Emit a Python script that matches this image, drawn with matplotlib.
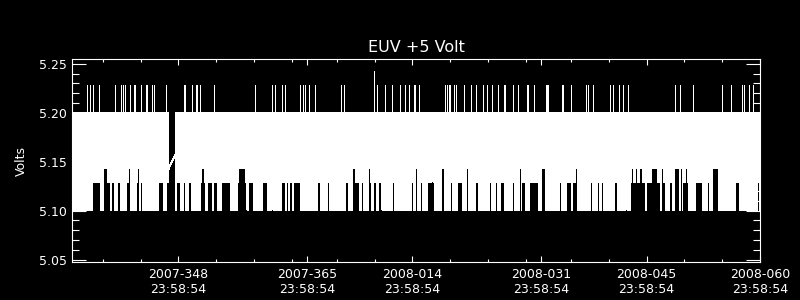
import numpy as np
import matplotlib
matplotlib.use("Agg")
import matplotlib.pyplot as plt
import matplotlib.dates as mdates
from matplotlib.ticker import FixedLocator, FixedFormatter, MultipleLocator, FormatStrFormatter
from datetime import datetime

# time in days: 2007 day-of-year, counted on into 2008 (366 = 2008-001), at 23:58:54
t_start = 333.97
t_end = 425.0
day_zero = datetime(2006, 12, 31, 23, 58, 54)

tick_days = [348, 365, 379, 396, 410, 425]
tick_labels = ["2007-348\n23:58:54", "2007-365\n23:58:54", "2008-014\n23:58:54",
               "2008-031\n23:58:54", "2008-045\n23:58:54", "2008-060\n23:58:54"]

# voltage steps seen in the trace
v_floor = 5.100
v_ceil = 5.200
v_step1 = 5.1286
v_step2 = 5.1429
v_gap_end = 5.1571
v_spike = 5.2286
v_spike_max = 5.2429

# single readings up at v_spike
spike_days = [335.96, 336.36, 336.67, 337.46, 339.67, 340.46, 340.64, 340.90, 341.65,
              342.09, 342.22, 343.06, 343.72, 343.90, 344.52, 344.74, 346.42, 348.71,
              348.93, 349.81, 350.34, 350.48, 350.92, 352.68, 358.11, 360.40, 360.76,
              361.73, 362.17, 364.15, 364.46, 364.73, 365.26, 366.05, 369.58, 369.89,
              374.30, 375.31, 376.29, 377.39, 378.05, 378.49, 379.15, 379.37,
              379.90, 383.34, 383.52, 383.87, 384.00, 384.53, 384.75, 385.86, 386.74,
              387.40, 388.37, 388.86, 389.52, 390.27, 391.15, 391.25, 392.26, 392.92,
              394.20, 394.30, 395.12, 396.70, 396.82, 396.95, 398.85, 398.95, 399.98,
              401.96, 402.18, 402.84, 405.08, 405.20, 405.49, 406.37, 406.81, 407.48,
              413.79, 414.45, 416.08, 419.96, 421.15, 422.61, 422.92, 423.58, 424.02]
spike_max_days = [373.86]

# spans where the lowest reading is v_step1 instead of v_floor
step1_spans = [(335.39, 335.53), (335.74, 335.87), (336.58, 337.68), (338.65, 339.00),
               (339.22, 339.53), (339.89, 340.33), (341.12, 341.65), (342.40, 342.75),
               (342.97, 343.28), (343.86, 343.99), (345.40, 346.06), (346.50, 346.81),
               (347.70, 348.27), (348.71, 348.93), (349.37, 349.73), (350.92, 351.58),
               (351.80, 352.46), (352.68, 353.25), (353.78, 354.89), (355.77, 357.09),
               (357.31, 357.98), (358.42, 358.64), (359.08, 359.74), (361.64, 362.15),
               (362.30, 362.60), (362.75, 363.05), (363.27, 364.15), (366.36, 366.80),
               (367.81, 367.95), (370.11, 370.55), (371.43, 371.87), (372.31, 372.54),
               (373.20, 373.51), (373.86, 374.17), (374.52, 374.96), (376.29, 376.64),
               (377.39, 377.53), (378.05, 378.19), (378.93, 379.15),
               (379.90, 380.04), (380.12, 380.34), (381.00, 381.89), (384.09, 384.23),
               (384.97, 385.64), (386.21, 386.43), (386.96, 387.10), (387.31, 387.62),
               (389.25, 389.39), (389.70, 389.84), (389.92, 390.31), (390.71, 391.02),
               (392.34, 392.56), (393.49, 394.02), (394.46, 395.70), (397.11, 397.25),
               (397.90, 398.04), (398.52, 398.66), (399.40, 399.98), (400.20, 400.73),
               (402.58, 402.76), (403.51, 403.73), (404.08, 404.26), (405.05, 405.19),
               (405.71, 406.11), (407.92, 409.80), (409.95, 411.89), (412.11, 412.55),
               (413.08, 413.35), (413.43, 413.57), (414.76, 415.55), (416.52, 417.40),
               (418.07, 418.29), (421.82, 422.26), (423.05, 423.19), (424.68, 424.99)]

# spans where the lowest reading is v_step2
step2_spans = [(338.03, 338.65), (340.55, 340.69), (341.34, 341.65), (342.66, 342.80),
               (345.75, 345.89), (346.28, 346.42), (349.46, 349.60), (350.25, 350.39),
               (351.05, 351.49), (355.24, 355.38), (355.99, 356.87), (360.40, 360.54),
               (362.03, 362.17), (366.58, 366.72), (367.46, 367.60), (368.79, 368.93),
               (371.12, 371.43), (371.79, 371.93), (372.76, 372.90), (373.20, 373.42),
               (375.18, 375.32),
               (379.46, 379.68), (380.56, 380.70), (381.58, 381.75), (382.11, 382.25),
               (382.90, 383.25), (385.20, 385.34), (385.50, 385.64), (386.21, 386.35),
               (387.62, 387.76), (391.02, 391.16), (392.26, 392.40), (393.14, 393.40),
               (394.90, 395.04), (396.01, 396.58), (399.76, 399.90), (400.55, 400.86),
               (401.08, 401.22), (402.40, 402.54), (403.06, 403.20), (404.39, 404.53),
               (405.84, 405.98), (407.26, 407.40), (408.05, 408.23), (408.49, 408.80),
               (409.11, 409.46), (410.57, 411.45), (412.02, 412.16), (413.74, 414.32),
               (414.54, 414.68), (415.20, 415.34), (415.90, 416.04), (416.74, 416.88),
               (417.49, 417.63), (418.73, 419.52), (420.93, 421.07), (421.90, 422.04)]

# data gap, joined by a straight line
gap_span = (346.72, 347.61)


def to_num(days):
    return mdates.date2num(day_zero) + np.asarray(days, dtype=float)


def build_envelope():
    t = np.arange(t_start, t_end + 0.005, 0.005)
    lo = np.full_like(t, v_floor)
    for a, b in step1_spans:
        lo[(t >= a) & (t < b)] = v_step1
    for a, b in step2_spans:
        lo[(t >= a) & (t < b)] = v_step2
    hi = np.full_like(t, v_ceil)
    keep = (t < gap_span[0]) | (t > gap_span[1])
    return t, lo, hi, keep


def main():
    plt.rcParams['font.family'] = 'DejaVu Sans'
    fig = plt.figure(figsize=(8, 3), dpi=100, facecolor='black')
    ax = fig.add_axes([0.0904, 0.1267, 0.8596, 0.6756], facecolor='black')

    t, lo, hi, keep = build_envelope()
    ax.fill_between(to_num(t), lo, hi, where=keep, color='white', lw=0,
                    antialiased=False, step='mid')
    ax.vlines(to_num(spike_days), v_ceil, v_spike, color='white', lw=0.72,
              antialiased=False)
    ax.vlines(to_num(spike_max_days), v_ceil, v_spike_max, color='white', lw=0.72,
              antialiased=False)
    ax.plot(to_num(gap_span), [v_step2, v_gap_end], color='white', lw=0.72,
            antialiased=False)

    ax.set_xlim(to_num(t_start), to_num(t_end))
    ax.set_ylim(5.0476, 5.2545)

    ax.xaxis.set_major_locator(FixedLocator(to_num(tick_days)))
    ax.xaxis.set_major_formatter(FixedFormatter(tick_labels))
    ax.xaxis.set_minor_locator(mdates.DayLocator(bymonthday=[5, 10, 15, 20, 25, 30]))
    ax.yaxis.set_major_locator(MultipleLocator(0.05))
    ax.yaxis.set_minor_locator(MultipleLocator(0.01))
    ax.yaxis.set_major_formatter(FormatStrFormatter('%.2f'))

    for s in ax.spines.values():
        s.set_color('white')
        s.set_linewidth(0.8)
    ax.tick_params(which='both', direction='in', colors='white', top=True, right=True,
                   width=0.8, labelsize=9)
    ax.tick_params(axis='x', which='major', length=4.5, pad=4)
    ax.tick_params(axis='x', which='minor', length=2.2)
    ax.tick_params(axis='y', which='major', length=10, pad=4)
    ax.tick_params(axis='y', which='minor', length=5)

    ax.set_title('EUV +5 Volt', color='white', fontsize=11.5, pad=5)
    ax.set_ylabel('Volts', color='white', fontsize=9)
    ax.yaxis.set_label_coords(-0.064, 0.5)

    fig.savefig('out.png', dpi=100, facecolor='black')
    plt.close(fig)


if __name__ == "__main__":
    main()
